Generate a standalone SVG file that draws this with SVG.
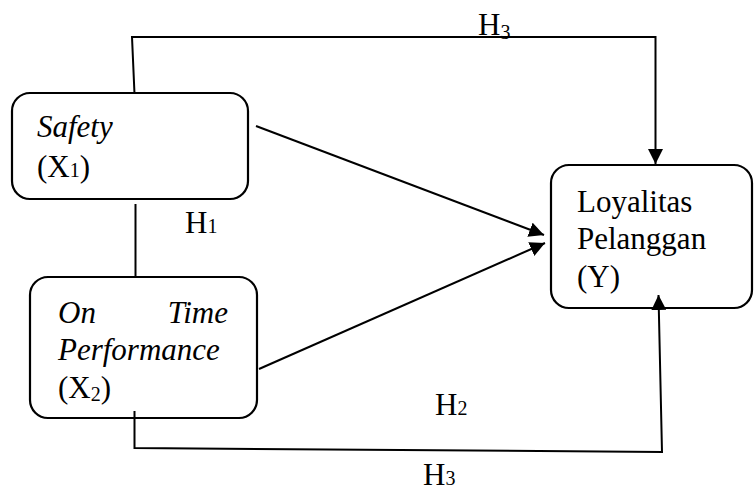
<svg xmlns="http://www.w3.org/2000/svg" width="754" height="490" viewBox="0 0 754 490">
<defs>
<style>
.box{fill:#fff;stroke:#000;stroke-width:2.2}
.ln{fill:none;stroke:#000;stroke-width:2}
.t{font-family:"Liberation Serif","Times New Roman",serif;font-size:31px;fill:#000}
.i{font-style:italic}
.sub{font-size:20px}
</style>
<marker id="ah" markerWidth="15" markerHeight="15" refX="15" refY="7.5" orient="auto" markerUnits="userSpaceOnUse">
<path d="M0,0 L15,7.5 L0,15 Z" fill="#000"/>
</marker>
</defs>
<rect width="754" height="490" fill="#fff"/>
<g id="safety">
<rect class="box" x="12" y="93" width="236" height="106" rx="18"/>
<text class="t i" x="37" y="137">Safety</text>
<text class="t" x="37" y="177">(X<tspan class="sub">1</tspan>)</text>
</g>
<g id="otp">
<rect class="box" x="30" y="277" width="227" height="141" rx="18"/>
<text class="t i" x="58" y="323">On</text>
<text class="t i" x="228" y="323" text-anchor="end">Time</text>
<text class="t i" x="58" y="360">Performance</text>
<text class="t" x="58" y="398">(X<tspan class="sub" dy="3">2</tspan><tspan dy="-3">)</tspan></text>
</g>
<g id="loyalitas">
<rect class="box" x="551" y="165" width="201" height="143" rx="18"/>
<text class="t" x="577" y="212">Loyalitas</text>
<text class="t" x="577" y="249">Pelanggan</text>
<text class="t" x="577" y="287">(Y)</text>
</g>
<g id="connectors">
<polyline class="ln" points="134.5,94 132,37 655.5,37 655.5,164" marker-end="url(#ah)"/>
<line class="ln" x1="256" y1="126" x2="544" y2="235" marker-end="url(#ah)"/>
<line class="ln" x1="259" y1="369" x2="545" y2="243" marker-end="url(#ah)"/>
<line class="ln" x1="135.5" y1="204" x2="135.5" y2="277"/>
<polyline class="ln" points="134.5,411 134.5,448 662,452 658.5,295" marker-end="url(#ah)"/>
</g>
<g id="labels">
<text class="t" x="478" y="35">H<tspan class="sub" dy="4">3</tspan></text>
<text class="t" x="185" y="233">H<tspan class="sub">1</tspan></text>
<text class="t" x="435" y="415">H<tspan class="sub">2</tspan></text>
<text class="t" x="423" y="485">H<tspan class="sub">3</tspan></text>
</g>
</svg>
